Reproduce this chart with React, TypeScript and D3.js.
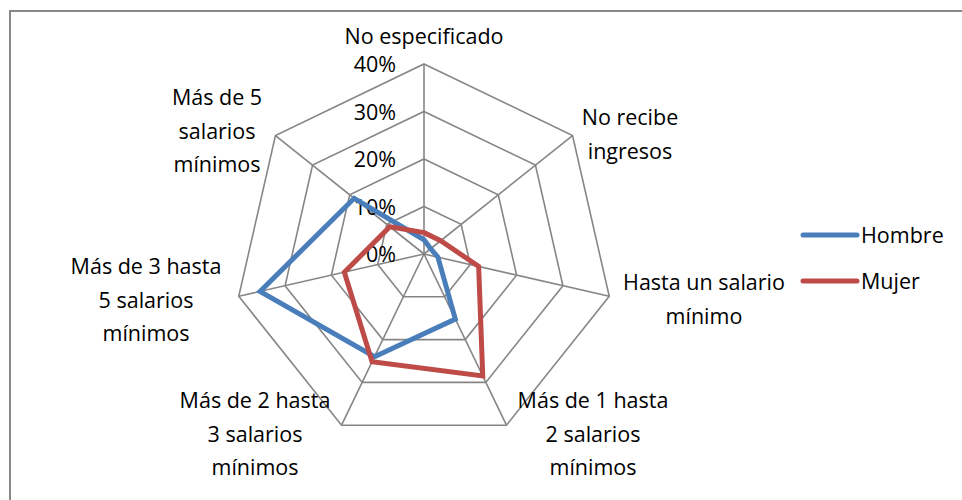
import React from "react";
import * as d3 from "d3";

const categories: string[][] = [
  ["No especificado"],
  ["No recibe", "ingresos"],
  ["Hasta un salario", "mínimo"],
  ["Más de 1 hasta", "2 salarios", "mínimos"],
  ["Más de 2 hasta", "3 salarios", "mínimos"],
  ["Más de 3 hasta", "5 salarios", "mínimos"],
  ["Más de 5", "salarios", "mínimos"],
];
const hombre = [0.03, 0.018, 0.03, 0.152, 0.24, 0.354, 0.188];
const mujer = [0.045, 0.045, 0.118, 0.285, 0.252, 0.172, 0.092];
const ticks = [0, 0.1, 0.2, 0.3, 0.4];
const seriesNames = ["Hombre", "Mujer"];
const colors = ["#4a7ebb", "#be4b48"];

// label anchor positions (center x, first baseline y)
const labelPos: [number, number][] = [
  [424, 44],
  [630, 125],
  [704, 290],
  [593, 408],
  [255, 408],
  [146, 274],
  [217, 105],
];

export default function App() {
  const W = 962, H = 500;
  const cx = 424, cy = 254, R = 190;
  const n = categories.length;
  const r = d3.scaleLinear().domain([0, 0.4]).range([0, R]);
  const ang = (i: number) => (i * 2 * Math.PI) / n;
  const pt = (i: number, v: number): [number, number] => [
    cx + r(v) * Math.sin(ang(i)),
    cy - r(v) * Math.cos(ang(i)),
  ];
  const line = d3.line<[number, number]>().curve(d3.curveLinearClosed);
  const font = "'Open Sans', sans-serif";
  const fs = 21.5;
  const series = [hombre, mujer];

  return (
    <svg width={W} height={H} style={{ position: "absolute", left: 0, top: 0 }}>
      <rect x={0} y={0} width={W} height={H} fill="#fff" />
      <rect x={10} y={11} width={W + 20} height={H + 20} fill="none" stroke="#888" strokeWidth={2} />
      {/* grid rings */}
      {ticks.slice(1).map((t) => (
        <path
          key={t}
          d={line(d3.range(n).map((i) => pt(i, t))) || ""}
          fill="none"
          stroke="#868686"
          strokeWidth={1.6}
        />
      ))}
      {/* spokes */}
      {d3.range(n).map((i) => {
        const [x, y] = pt(i, 0.4);
        return <line key={i} x1={cx} y1={cy} x2={x} y2={y} stroke="#868686" strokeWidth={1.6} />;
      })}
      {/* tick labels */}
      {ticks.map((t) => (
        <text
          key={t}
          x={cx - 28}
          y={cy - r(t) + 8}
          textAnchor="end"
          fontFamily={font}
          fontSize={fs}
          fill="#000"
        >
          {d3.format(".0%")(t)}
        </text>
      ))}
      {/* series */}
      {series.map((s, k) => (
        <path
          key={k}
          d={line(s.map((v, i) => pt(i, v))) || ""}
          fill="none"
          stroke={colors[k]}
          strokeWidth={5}
          strokeLinejoin="miter"
        />
      ))}
      {/* category labels */}
      {categories.map((lines, i) => (
        <text key={i} textAnchor="middle" fontFamily={font} fontSize={fs} fill="#000">
          {lines.map((l, j) => (
            <tspan key={j} x={labelPos[i][0]} y={labelPos[i][1] + j * 33.5}>
              {l}
            </tspan>
          ))}
        </text>
      ))}
      {/* legend */}
      {seriesNames.map((name, k) => (
        <g key={name}>
          <line
            x1={803}
            x2={857}
            y1={235 + k * 46}
            y2={235 + k * 46}
            stroke={colors[k]}
            strokeWidth={5}
            strokeLinecap="round"
          />
          <text x={861} y={243 + k * 46} fontFamily={font} fontSize={fs} fill="#000">
            {name}
          </text>
        </g>
      ))}
    </svg>
  );
}
